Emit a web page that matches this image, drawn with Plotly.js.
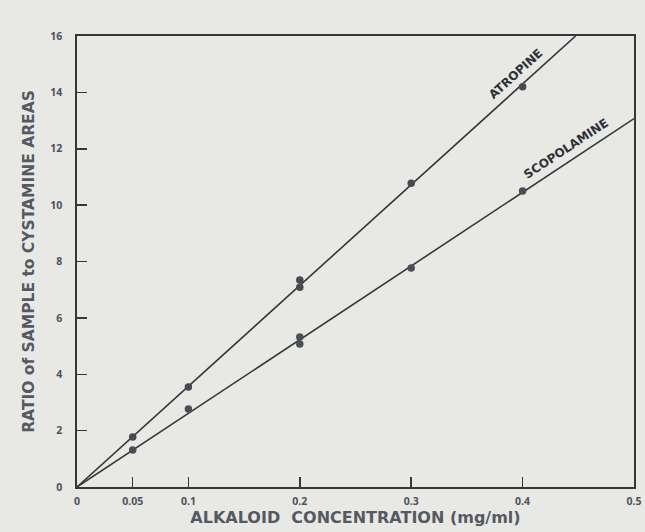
<!DOCTYPE html>
<html>
<head>
<meta charset="utf-8">
<script src="https://cdn.plot.ly/plotly-3.0.1.min.js"></script>
<style>
  html, body { margin: 0; padding: 0; background: #e8e8e5; }
  #chart { width: 645px; height: 532px; }
</style>
</head>
<body>
<div id="chart"></div>
<script>
// Data (alkaloid concentration, mg/ml)
const concentration = [0.05, 0.1, 0.2, 0.2, 0.3, 0.4];
const atropine      = [1.77, 3.55, 7.34, 7.09, 10.78, 14.2];
const scopolamine   = [1.31, 2.77, 5.32, 5.07, 7.77, 10.5];

const xTickVals  = [0, 0.05, 0.1, 0.2, 0.3, 0.4, 0.5];
const xTickText  = ['0', '0.05', '0.1', '0.2', '0.3', '0.4', '0.5'];
const yTickVals  = [0, 2, 4, 6, 8, 10, 12, 14, 16];

const xMax = 0.5, yMax = 16;

// least-squares slope through origin
function slopeThroughOrigin(xs, ys) {
  let sxy = 0, sxx = 0;
  for (let i = 0; i < xs.length; i++) { sxy += xs[i] * ys[i]; sxx += xs[i] * xs[i]; }
  return sxy / sxx;
}
function fitLine(slope) {
  const xEnd = Math.min(xMax, yMax / slope);
  return { x: [0, xEnd], y: [0, slope * xEnd] };
}
const kA = slopeThroughOrigin(concentration, atropine);
const kS = slopeThroughOrigin(concentration, scopolamine);
const fitA = fitLine(kA), fitS = fitLine(kS);

const ink = '#34373c';
const textCol = '#4d525a';
const font = 'Open Sans, DejaVu Sans, sans-serif';
const titleFont = 'DejaVu Sans, sans-serif';

const traces = [
  { x: fitA.x, y: fitA.y, mode: 'lines', line: { color: ink, width: 1.6 }, hoverinfo: 'skip', showlegend: false },
  { x: fitS.x, y: fitS.y, mode: 'lines', line: { color: ink, width: 1.6 }, hoverinfo: 'skip', showlegend: false },
  { x: concentration, y: atropine, mode: 'markers', name: 'Atropine',
    marker: { color: '#46494f', size: 7.5 }, showlegend: false },
  { x: concentration, y: scopolamine, mode: 'markers', name: 'Scopolamine',
    marker: { color: '#4a4e55', size: 7.5 }, showlegend: false }
];

const xa = 0.40, xs = 0.444;
const layout = {
  width: 645, height: 532,
  margin: { l: 77, r: 11, t: 36, b: 45 },
  paper_bgcolor: '#e8e8e5',
  plot_bgcolor: '#e8e8e5',
  showlegend: false,
  xaxis: {
    range: [0, xMax], tickmode: 'array', tickvals: xTickVals, ticktext: xTickText,
    ticks: 'inside', ticklen: 10, tickwidth: 1.5, tickcolor: ink,
    showline: true, linecolor: ink, linewidth: 1.6, mirror: true,
    showgrid: false, zeroline: false,
    tickfont: { family: font, size: 10.5, color: textCol, weight: 'bold' },
    ticklabelstandoff: 4,
    title: { text: 'ALKALOID  CONCENTRATION (mg/ml)', standoff: 4,
             font: { family: titleFont, size: 16, color: '#555a62', weight: 'bold' } }
  },
  yaxis: {
    range: [0, yMax], tickmode: 'array', tickvals: yTickVals,
    ticks: 'inside', ticklen: 10, tickwidth: 1.5, tickcolor: ink,
    showline: true, linecolor: ink, linewidth: 1.6, mirror: true,
    showgrid: false, zeroline: false,
    tickfont: { family: font, size: 10.5, color: textCol, weight: 'bold' },
    ticklabelstandoff: 11,
    title: { text: 'RATIO of SAMPLE to CYSTAMINE AREAS', standoff: 12,
             font: { family: titleFont, size: 15.5, color: '#555a62', weight: 'bold' } }
  },
  annotations: [
    { x: xa, y: kA * xa, xref: 'x', yref: 'y', text: 'ATROPINE', showarrow: false,
      textangle: -Math.atan(kA * (451 / 16) / (557 / 0.5)) * 180 / Math.PI,
      xshift: -7, yshift: 10,
      font: { family: titleFont, size: 12, color: '#2e3136', weight: 'bold' } },
    { x: xs, y: kS * xs, xref: 'x', yref: 'y', text: 'SCOPOLAMINE', showarrow: false,
      textangle: -Math.atan(kS * (451 / 16) / (557 / 0.5)) * 180 / Math.PI,
      xshift: -6, yshift: 11,
      font: { family: titleFont, size: 12, color: '#2e3136', weight: 'bold' } }
  ]
};

Plotly.newPlot('chart', traces, layout, { displayModeBar: false, staticPlot: true });
</script>
</body>
</html>
